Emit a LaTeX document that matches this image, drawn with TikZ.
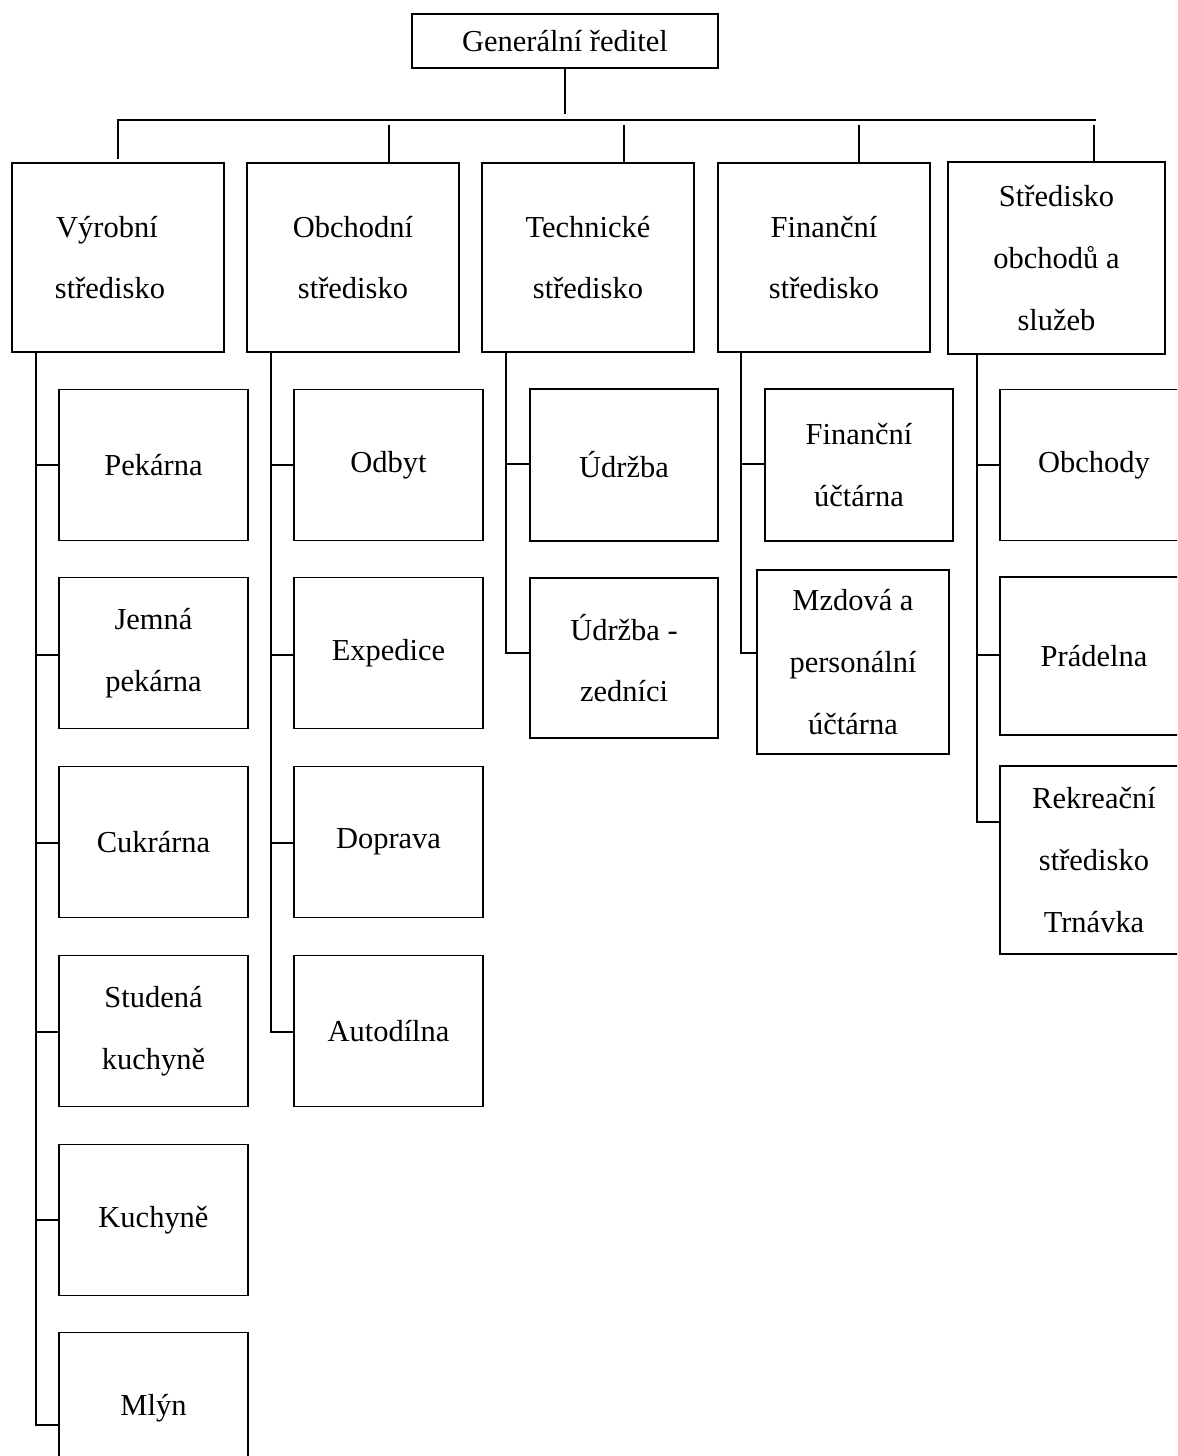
\documentclass[tikz,border=0pt]{standalone}
\usepackage{fontspec}
\setmainfont{Liberation Serif}
\newcommand\chartfont{\fontsize{17.35pt}{35.15pt}\selectfont}
\newlength\px
\setlength\px{0.02cm}
\begin{document}
\begin{tikzpicture}[x=0.02cm,y=-0.02cm,
  line width=1.1pt,
  bx/.style={draw, line width=1.1pt, inner sep=0pt, align=center, font=\chartfont},
  ln/.style={line width=1.1pt}]
\useasboundingbox (0,0) rectangle (1177,1456);
\clip (0,0) rectangle (1177,1456);
% top
\node[bx, minimum width=306\px, minimum height=54\px] (g) at (565,41) {Generální ředitel};
% level 1
\node[bx, minimum width=212\px, minimum height=189\px] (v) at (118,257.5) {\hspace*{-22\px}Výrobní\\\hspace*{-16\px}středisko};
\node[bx, minimum width=212\px, minimum height=189\px] (o) at (353,257.5) {Obchodní\\středisko};
\node[bx, minimum width=212\px, minimum height=189\px] (t) at (588,257.5) {Technické\\středisko};
\node[bx, minimum width=212\px, minimum height=189\px] (f) at (824,257.5) {Finanční\\středisko};
\node[bx, minimum width=217\px, minimum height=192\px] (s) at (1056.5,258) {Středisko\\obchodů a\\služeb};
% Výrobní children
\node[bx, minimum width=189\px, minimum height=151\px] (v1) at (153.5,465) {Pekárna};
\node[bx, minimum width=189\px, minimum height=151\px] (v2) at (153.5,653) {Jemná\\pekárna};
\node[bx, minimum width=189\px, minimum height=151\px] (v3) at (153.5,842) {Cukrárna};
\node[bx, minimum width=189\px, minimum height=151\px] (v4) at (153.5,1031) {Studená\\kuchyně};
\node[bx, minimum width=189\px, minimum height=151\px] (v5) at (153.5,1220) {Kuchyně};
\node[bx, minimum width=189\px, minimum height=151\px] (v6) at (153.5,1408) {Mlýn};
% Obchodní children
\node[bx, minimum width=189\px, minimum height=151\px] (o1) at (388.5,465) {Odbyt};
\node[bx, minimum width=189\px, minimum height=151\px] (o2) at (388.5,653) {Expedice};
\node[bx, minimum width=189\px, minimum height=151\px] (o3) at (388.5,842) {Doprava};
\node[bx, minimum width=189\px, minimum height=151\px] (o4) at (388.5,1031) {Autodílna};
% Technické children
\node[bx, minimum width=188\px, minimum height=152\px] (t1) at (624,465) {Údržba};
\node[bx, minimum width=188\px, minimum height=160\px] (t2) at (624,658) {Údržba -\\zedníci};
% Finanční children
\node[bx, minimum width=188\px, minimum height=152\px] (f1) at (859,465) {Finanční\\účtárna};
\node[bx, minimum width=192\px, minimum height=184\px] (f2) at (853,662) {Mzdová a\\personální\\účtárna};
% Služby children
\node[bx, minimum width=212\px, minimum height=151\px] (s1) at (1106,465) {\hspace*{-24\px}Obchody};
\node[bx, minimum width=212\px, minimum height=158\px] (s2) at (1106,656) {\hspace*{-24\px}Prádelna};
\node[bx, minimum width=212\px, minimum height=188\px] (s3) at (1106,860) {\hspace*{-24\px}Rekreační\\\hspace*{-24\px}středisko\\\hspace*{-24\px}Trnávka};
% top connectors
\coordinate (barL) at (118,120);
\coordinate (barR) at (1096,120);
\draw[ln] (g.south) -- (g.south |- 0,114);
\draw[ln] (v.north |- 0,159) -- (barL) -- (barR);
\draw[ln] (389,125) -- (o.north -| 389,0);
\draw[ln] (624,125) -- (t.north -| 624,0);
\draw[ln] (859,125) -- (f.north -| 859,0);
\draw[ln] (1094,125) -- (s.north -| 1094,0);
% Výrobní tree
\draw[ln] (v.south -| 36,0) -- (36,1425) -- (v6.west |- 0,1425);
\draw[ln] (36,465) -- (v1.west |- 0,465);
\draw[ln] (36,655) -- (v2.west |- 0,655);
\draw[ln] (36,843) -- (v3.west |- 0,843);
\draw[ln] (36,1032) -- (v4.west |- 0,1032);
\draw[ln] (36,1220) -- (v5.west |- 0,1220);
% Obchodní tree
\draw[ln] (o.south -| 271,0) -- (271,1032) -- (o4.west |- 0,1032);
\draw[ln] (271,465) -- (o1.west |- 0,465);
\draw[ln] (271,655) -- (o2.west |- 0,655);
\draw[ln] (271,843) -- (o3.west |- 0,843);
% Technické tree
\draw[ln] (t.south -| 506,0) -- (506,653) -- (t2.west |- 0,653);
\draw[ln] (506,464) -- (t1.west |- 0,464);
% Finanční tree
\draw[ln] (f.south -| 741,0) -- (741,653) -- (f2.west |- 0,653);
\draw[ln] (741,464) -- (f1.west |- 0,464);
% Služby tree
\draw[ln] (s.south -| 977,0) -- (977,822) -- (s3.west |- 0,822);
\draw[ln] (977,465) -- (s1.west |- 0,465);
\draw[ln] (977,655) -- (s2.west |- 0,655);
\end{tikzpicture}
\end{document}
